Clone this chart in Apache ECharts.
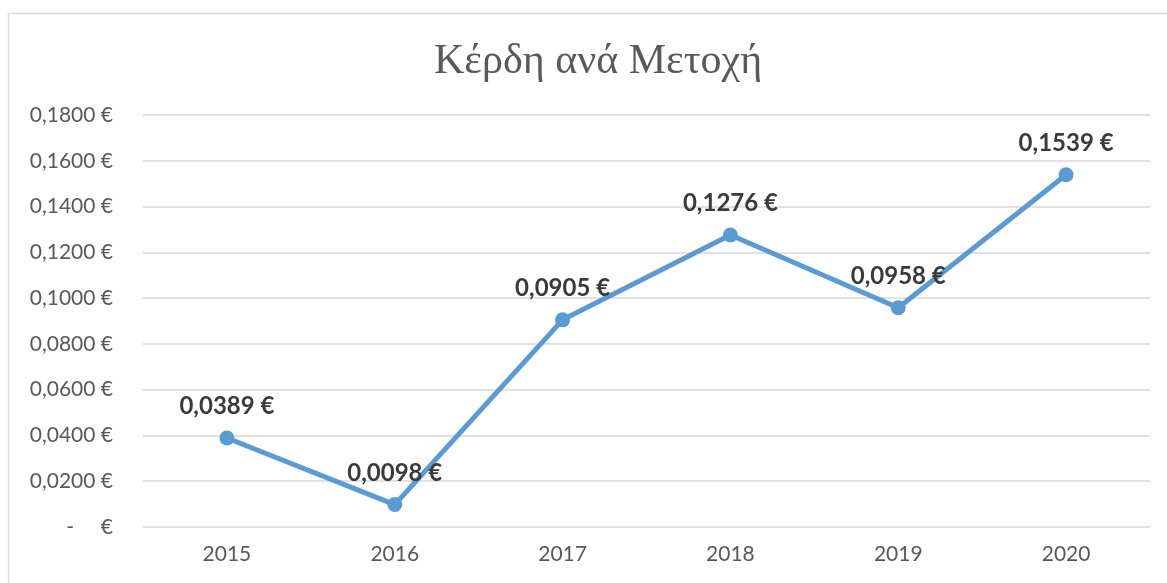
<!DOCTYPE html>
<html>
<head>
<meta charset="utf-8">
<script src="https://cdn.jsdelivr.net/npm/echarts@6/dist/echarts.min.js"></script>
<style>
  html, body { margin: 0; padding: 0; background: #fff; }
  #myChart { width: 1167px; height: 583px; }
</style>
</head>
<body>
<div id="myChart"></div>
<script>
// data
const years = ['2015', '2016', '2017', '2018', '2019', '2020']
const eps = [0.0389, 0.0098, 0.0905, 0.1276, 0.0958, 0.1539]

function euro (v) {
  return v.toFixed(4).replace('.', ',') + ' €'
}

let myChart = echarts.init(document.getElementById('myChart'))
let option = {
  animation: false,
  backgroundColor: '#fff',
  graphic: [{
    type: 'rect',
    shape: { x: 8.5, y: 13.5, width: 1200, height: 620 },
    style: { fill: 'none', stroke: '#d9d9d9', lineWidth: 1.5 },
    silent: true
  }],
  title: {
    text: 'Κέρδη ανά Μετοχή',
    left: 429,
    top: 36,
    textStyle: {
      fontFamily: 'Liberation Serif',
      fontWeight: 'normal',
      fontSize: 42,
      color: '#595959'
    }
  },
  grid: { left: 143, right: 17, top: 115, bottom: 56 },
  xAxis: {
    type: 'category',
    data: years,
    boundaryGap: true,
    axisLine: { show: false },
    axisTick: { show: false },
    axisLabel: { fontFamily: 'Lato', fontSize: 21, color: '#595959', margin: 17 }
  },
  yAxis: {
    type: 'value',
    min: 0,
    max: 0.18,
    interval: 0.02,
    axisLine: { show: false },
    axisTick: { show: false },
    splitLine: { lineStyle: { color: '#d9d9d9', width: 1.5 } },
    axisLabel: {
      fontFamily: 'Lato',
      fontSize: 21,
      color: '#595959',
      margin: 30,
      formatter: v => v === 0 ? '-     €' : euro(v)
    }
  },
  series: [{
    type: 'line',
    data: eps,
    symbol: 'circle',
    symbolSize: 15,
    lineStyle: { color: '#5b9bd5', width: 5 },
    itemStyle: { color: '#5b9bd5' },
    label: {
      show: true,
      position: 'top',
      distance: 12,
      fontFamily: 'Lato',
      fontWeight: 'bold',
      fontSize: 24,
      color: '#3a3a3a',
      formatter: p => euro(p.value)
    }
  }]
}
myChart.setOption(option)
window.onresize = myChart.resize
</script>
</body>
</html>
